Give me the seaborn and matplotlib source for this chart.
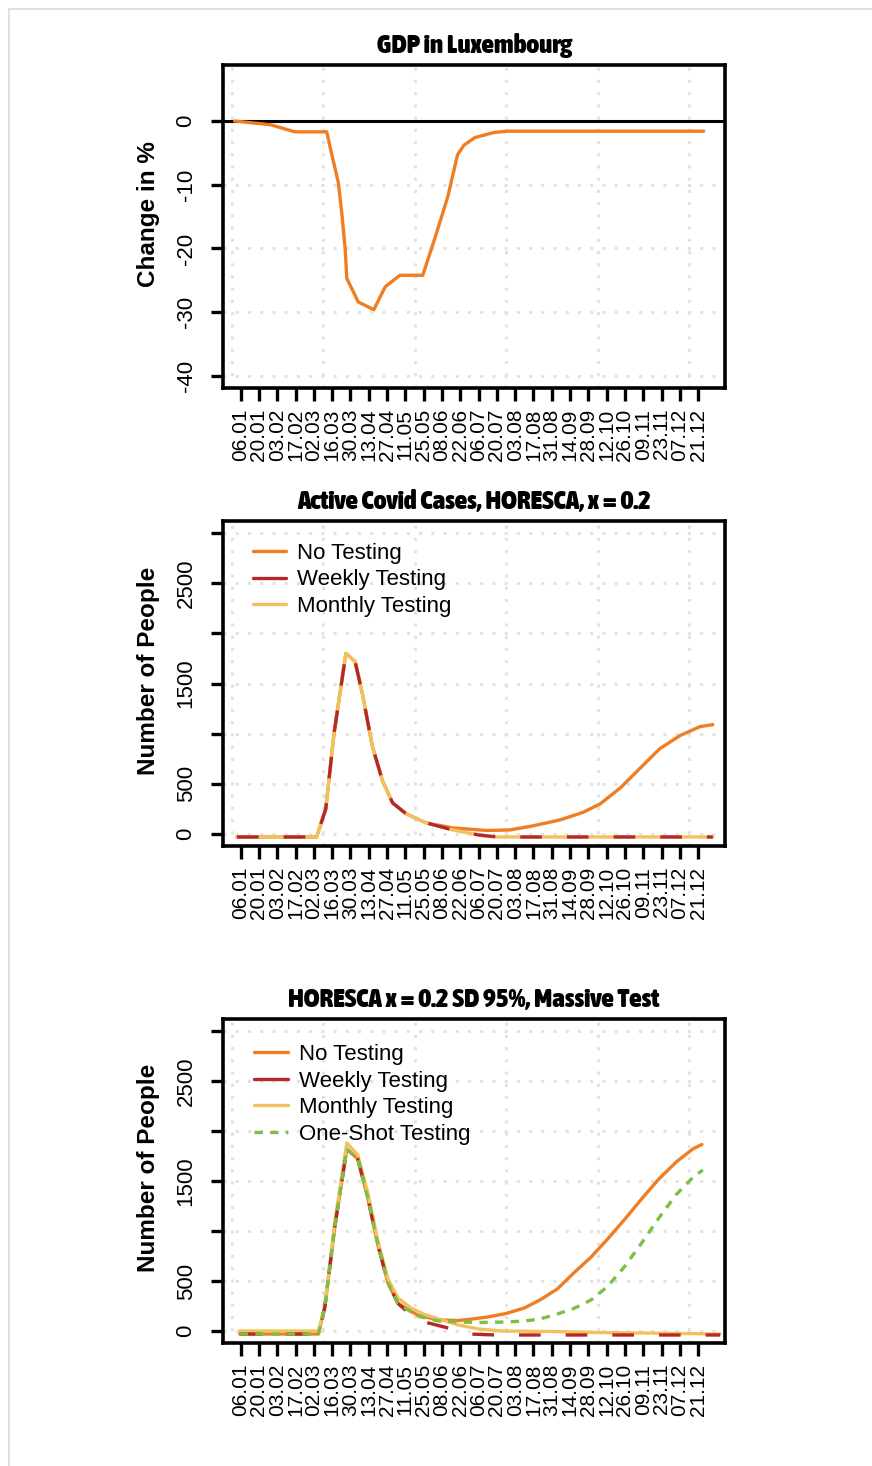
import numpy as np
import pandas as pd
import seaborn as sns
import matplotlib.pyplot as plt
from matplotlib.lines import Line2D
from matplotlib.patches import Rectangle
from matplotlib import font_manager

# x axis: weeks since 06.01 (tick every two weeks)
tick_weeks = list(range(1, 52, 2))
tick_labels = ["06.01", "20.01", "03.02", "17.02", "02.03", "16.03", "30.03",
               "13.04", "27.04", "11.05", "25.05", "08.06", "22.06", "06.07",
               "20.07", "03.08", "17.08", "31.08", "14.09", "28.09", "12.10",
               "26.10", "09.11", "23.11", "07.12", "21.12"]

# GDP change in %
gdp_w = [0.33, 4.3, 6.9, 10.4, 10.84, 11.68, 12.09, 12.43, 12.6, 13.86, 15.55,
         16.8, 18.4, 20.9, 22.4, 23.65, 24.7, 25.4, 26.6, 28.7, 30.2, 51.6]
gdp_v = [0, -0.6, -1.7, -1.7, -4.5, -9.7, -15.0, -20.2, -24.7, -28.4, -29.6,
         -26.0, -24.2, -24.2, -17.6, -11.8, -5.3, -3.8, -2.6, -1.8, -1.6, -1.6]

# Active cases, HORESCA x = 0.2
p2_common_w = [0.6, 9.3, 10.3, 11.2, 12.5, 13.5, 14.3, 15.4, 16.5, 17.6, 19.1, 21.3]
p2_common_v = [-30, -30, 250, 1000, 1800, 1720, 1400, 870, 530, 310, 200, 110]
p2_none_w = p2_common_w + [24.2, 27.9, 30.4, 32.9, 35.9, 38.4, 40.3, 42.5,
                           44.7, 46.8, 49.0, 51.2, 52.6]
p2_none_v = p2_common_v + [60, 35, 40, 80, 140, 215, 300, 460, 660, 850, 980,
                           1070, 1090]
p2_week_w = p2_common_w + [24.2, 27.0, 29.0, 52.6]
p2_week_v = p2_common_v + [40, -10, -30, -30]
p2_month_w = p2_week_w
p2_month_v = p2_week_v

# HORESCA x = 0.2 SD 95%, Massive Test
p3_common_w = [0.9, 9.5, 10.2, 11.3, 12.6, 13.8, 14.9, 16.0, 17.1, 18.2]
p3_common_v = [-30, -30, 240, 1050, 1820, 1720, 1330, 860, 480, 275]
p3_none_w = p3_common_w + [20.3, 22.6, 24.8, 26.3, 28.0, 30.0, 32.0, 33.7, 35.6,
                           37.4, 39.3, 41.1, 43.0, 44.9, 46.7, 48.6, 50.4, 51.4]
p3_none_v = p3_common_v + [160, 110, 105, 120, 140, 175, 230, 310, 420, 580,
                           740, 920, 1120, 1330, 1520, 1690, 1820, 1865]
p3_week_w = p3_common_w + [19.6, 21.1, 24.8, 25.9, 28.9, 53.4]
p3_week_v = p3_common_v + [160, 90, 3, -30, -40, -40]
p3_month_w = [0.9, 9.5, 10.2, 11.3, 12.6, 13.8, 14.9, 16.0, 17.1, 18.2, 19.6,
              21.1, 24.8, 27.0, 29.5, 35.0, 40.0, 45.0, 53.4]
p3_month_v = [0, 0, 250, 1100, 1880, 1760, 1380, 900, 520, 330, 230, 165, 60,
              20, 0, -5, -15, -20, -30]
p3_shot_w = p3_common_w + [20.3, 22.6, 24.8, 27.0, 30.0, 32.0, 33.7, 35.6, 37.4,
                           39.3, 41.1, 43.0, 44.9, 46.7, 48.6, 50.4, 51.5]
p3_shot_v = p3_common_v + [150, 100, 90, 85, 90, 100, 120, 170, 225, 310, 445,
                           650, 890, 1130, 1364, 1534, 1610]

ORANGE = "#EF7D22"
RED = "#B5282A"
YELLOW = "#F0C25E"
GREEN = "#7BC043"

sns.set_style("white")
plt.rcParams["font.family"] = ["Liberation Sans", "DejaVu Sans"]
plt.rcParams["text.color"] = "black"
plt.rcParams["axes.labelcolor"] = "black"
plt.rcParams["xtick.color"] = "black"
plt.rcParams["ytick.color"] = "black"

# condensed bold face for the titles, if one is installed
bold_cond = sorted({f.fname for f in font_manager.fontManager.ttflist
                    if ("Condensed" in f.name or "Narrow" in f.name)
                    and (f.weight in ("bold", "heavy", "black")
                         or (isinstance(f.weight, int) and f.weight >= 600))
                    and f.style == "normal"})
if bold_cond:
    title_font = dict(fontproperties=font_manager.FontProperties(
        fname=bold_cond[0], size=19.5))
else:
    title_font = dict(family="DejaVu Sans", fontweight="bold", fontsize=14.5)

W, H = 872, 1466
fig = plt.figure(figsize=(W / 100, H / 100), dpi=100)
fig.patches.append(Rectangle((9 / W, -0.1), 1.2, 1 - 9 / H + 0.1,
                             transform=fig.transFigure, fill=False,
                             edgecolor="#DADADA", lw=1.2))


def make_ax(top, bottom):
    ax = fig.add_axes([223 / W, (H - bottom) / H, 502 / W, (bottom - top) / H])
    ax.set_xlim(-0.93, 53.93)
    ax.set_xticks(tick_weeks)
    ax.set_xticklabels(tick_labels, rotation=90, fontsize=15)
    for x in range(0, 60, 10):
        ax.axvline(x, color="#E2E2E2", lw=2.2, ls=(0, (1, 3)), zorder=0)
    for s in ax.spines.values():
        s.set_linewidth(2.6)
        s.set_color("black")
    ax.tick_params(axis="both", direction="out", length=9, width=2.4,
                   color="black", bottom=True, left=True)
    ax.tick_params(axis="x", pad=6)
    ax.tick_params(axis="y", pad=10)
    return ax


def style_y(ax, ticks, labels, label):
    ax.set_yticks(ticks)
    ax.set_yticklabels(labels, rotation=90, va="center", fontsize=16)
    for y in ticks:
        ax.axhline(y, color="#E2E2E2", lw=2.2, ls=(0, (1, 3)), zorder=0)
    ax.set_ylabel(label, fontsize=17.5, fontweight="bold")
    ax.yaxis.set_label_coords(-0.125, 0.54)


# panel 1
ax1 = make_ax(65, 388)
ax1.set_ylim(-41.88, 8.78)
style_y(ax1, [0, -10, -20, -30, -40], ["0", "-10", "-20", "-30", "-40"],
        "Change in %")
ax1.axhline(0, color="black", lw=2.2, zorder=2)
sns.lineplot(x=gdp_w, y=gdp_v, ax=ax1, color=ORANGE, lw=2.4, sort=False)
ax1.set_title("GDP in Luxembourg", pad=9, **title_font)

leg_kw = dict(loc="upper left", frameon=False, fontsize=16, handlelength=1.5,
              handletextpad=0.5, labelspacing=0.25, borderaxespad=0.0)
ylabels = ["0", "500", "", "1500", "", "2500", ""]
yticks = [0, 500, 1000, 1500, 2000, 2500, 3000]

# panel 2
ax2 = make_ax(521, 846)
ax2.set_ylim(-120, 3120)
style_y(ax2, yticks, ylabels, "Number of People")
sns.lineplot(x=p2_none_w, y=p2_none_v, ax=ax2, color=ORANGE, lw=2.4)
sns.lineplot(x=p2_month_w, y=p2_month_v, ax=ax2, color=YELLOW, lw=2.4)
sns.lineplot(x=p2_week_w, y=p2_week_v, ax=ax2, color=RED, lw=2.4,
             linestyle=(0, (6.5, 7.5)))
ax2.set_title("Active Covid Cases, HORESCA, x = 0.2", pad=9, **title_font)
h2 = [Line2D([], [], color=c, lw=2.4) for c in (ORANGE, RED, YELLOW)]
ax2.legend(h2, ["No Testing", "Weekly Testing", "Monthly Testing"],
           bbox_to_anchor=(0.042, 0.96), **leg_kw)

# panel 3
ax3 = make_ax(1019, 1343)
ax3.set_ylim(-120, 3120)
style_y(ax3, yticks, ylabels, "Number of People")
sns.lineplot(x=p3_none_w, y=p3_none_v, ax=ax3, color=ORANGE, lw=2.4)
sns.lineplot(x=p3_month_w, y=p3_month_v, ax=ax3, color=YELLOW, lw=2.4)
sns.lineplot(x=p3_week_w, y=p3_week_v, ax=ax3, color=RED, lw=2.4,
             linestyle=(0, (6.5, 7.5)))
sns.lineplot(x=p3_shot_w, y=p3_shot_v, ax=ax3, color=GREEN, lw=2.4,
             linestyle=(0, (2.5, 2.2)))
ax3.set_title("HORESCA x = 0.2 SD 95%, Massive Test", pad=9, **title_font)
h3 = [Line2D([], [], color=c, lw=2.4) for c in (ORANGE, RED, YELLOW)]
h3.append(Line2D([], [], color=GREEN, lw=2.4, ls=(0, (2.5, 2.2))))
ax3.legend(h3, ["No Testing", "Weekly Testing", "Monthly Testing",
                "One-Shot Testing"], bbox_to_anchor=(0.045, 0.95), **leg_kw)

fig.savefig("out.png", dpi=100)
